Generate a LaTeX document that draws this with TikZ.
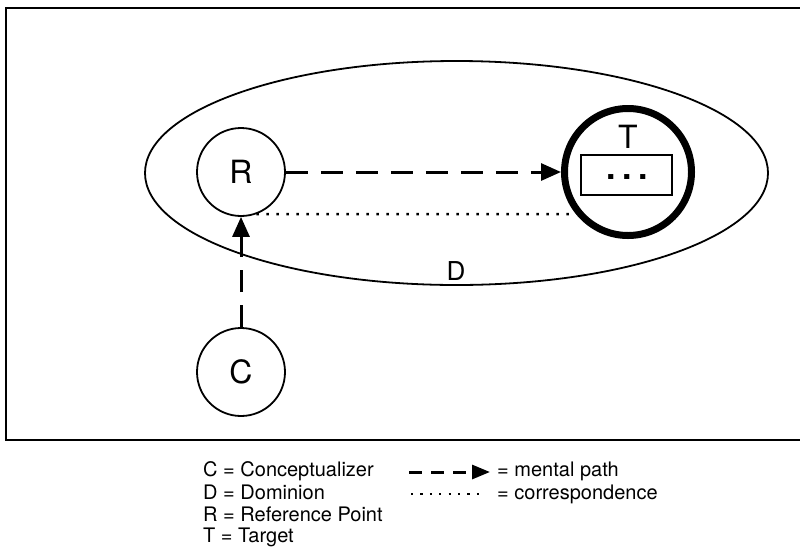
\documentclass[tikz,border=0pt]{standalone}
\usepackage{fontspec}
\setmainfont{TeX Gyre Heros}
\usetikzlibrary{arrows.meta,shapes.geometric}
\begin{document}
\begin{tikzpicture}[x=1pt,y=-1pt,
  circ/.style={circle,draw,line width=1.8pt,inner sep=0pt,minimum size=88pt,font=\fontsize{32}{38}\selectfont},
  dom/.style={ellipse,draw,line width=1.8pt,inner sep=0pt,minimum width=623pt,minimum height=224pt},
  mpath/.style={line width=3pt,dash pattern=on 22pt off 13pt,-{Triangle[length=20pt,width=17pt]}},
  legpath/.style={line width=3pt,dash pattern=on 13pt off 9pt,-{Triangle[length=18pt,width=14pt]}},
  corr/.style={line width=2.4pt,dash pattern=on 2.4pt off 7.6pt},
  legcorr/.style={line width=2.2pt,dash pattern=on 2.2pt off 7.2pt},
  big/.style={anchor=base,inner sep=0pt,font=\fontsize{32}{38}\selectfont},
  lbl/.style={anchor=base west,inner sep=0pt,font=\fontsize{20}{24}\selectfont}]
\useasboundingbox (0,0) rectangle (800,547);
\draw[line width=2.3pt] (6,8) rectangle (812,440);
\node[dom] (D) at (456.5,173) {};
\node[circ] (R) at (241,172) {R};
\node[circ] (C) at (241,372) {C};
\node[circ,line width=7pt,minimum size=127pt] (T) at (628,172) {};
\node[draw,line width=1.6pt,minimum width=91pt,minimum height=40pt,inner sep=0pt] (box) at (626.5,175) {};
\node[big] (Tl) at (628,148) {T};
\node[big,font=\fontsize{34}{38}\bfseries] (dots) at (627,179) {.\hspace{0.2em}.\hspace{0.2em}.};
\node[big,font=\fontsize{26}{30}\selectfont] (Dl) at (456,280) {D};
\draw[mpath] (R.east) -- (T.west);
\draw[mpath] (C.north) -- (R.south);
\draw[corr] (R.-70) -- (T.219);
% legend
\node[lbl] (l1) at (203,476) {C = Conceptualizer};
\node[lbl] (l2) at (203,499) {D = Dominion};
\node[lbl] (l3) at (203,521) {R = Reference Point};
\node[lbl] (l4) at (203,542) {T = Target};
\coordinate (ma) at (409,472);
\coordinate (mb) at (490,472);
\draw[legpath] (ma) -- (mb);
\node[lbl] (l5) at (497,476) {= mental path};
\coordinate (ca) at (411,494);
\coordinate (cb) at (480,494);
\draw[legcorr] (ca) -- (cb);
\node[lbl] (l6) at (497,499) {= correspondence};
\end{tikzpicture}
\end{document}
